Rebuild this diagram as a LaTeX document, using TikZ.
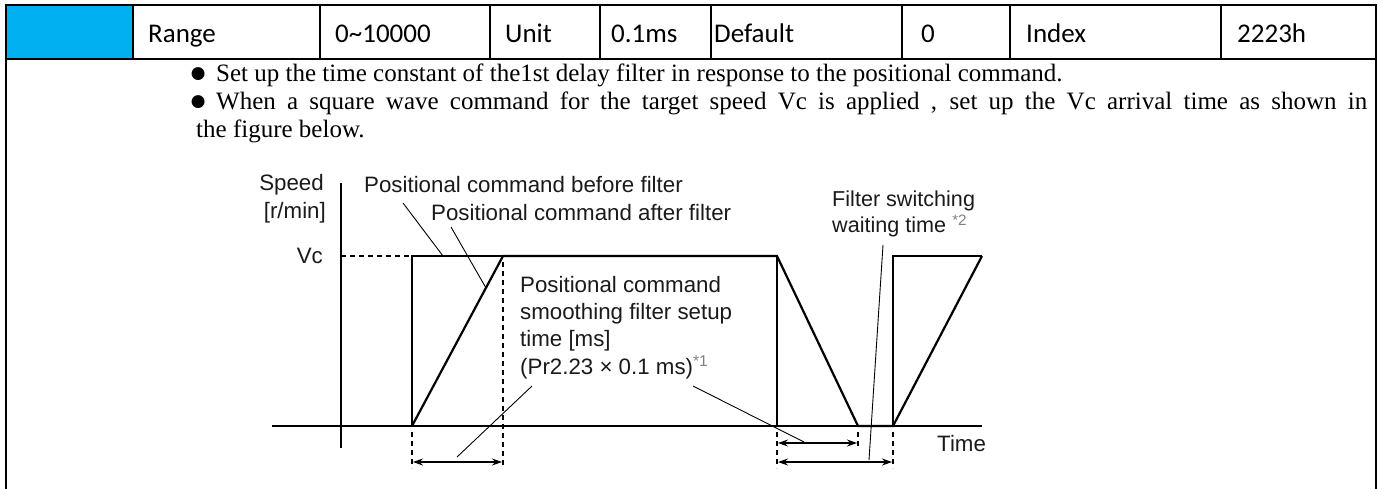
\documentclass[tikz,border=0pt]{standalone}
\usepackage{fontspec}
\setmainfont{Liberation Serif}
\newfontfamily\tabfont{Carlito}
\newfontfamily\figfont{Liberation Sans}
\usetikzlibrary{arrows.meta}
\definecolor{hdrblue}{HTML}{00B0F0}
\definecolor{figtext}{HTML}{1A1A1A}
\begin{document}
\begin{tikzpicture}[x=1pt,y=-1pt,
  tabtxt/.style={anchor=base west,inner sep=0pt,font=\tabfont\fontsize{27}{32}\selectfont},
  bodytxt/.style={anchor=base west,inner sep=0pt,font=\fontsize{25}{29}\selectfont},
  bullettxt/.style={anchor=base west,inner sep=0pt,font=\fontsize{30}{30}\selectfont},
  figtxt/.style={inner sep=0pt,text=figtext,font=\figfont\fontsize{22.3}{27}\selectfont},
  border/.style={line width=2pt,line cap=rect},
  thinl/.style={line width=1.1pt},
  thickl/.style={line width=2.2pt,line join=miter},
  dashl/.style={line width=1.1pt,dash pattern=on 5pt off 4pt},
  leader/.style={line width=0.9pt},
  dim/.style={line width=1.1pt,{Stealth[length=10pt,width=7pt]}-{Stealth[length=10pt,width=7pt]}}
]
\useasboundingbox (0,0) rectangle (1383,488);
% ---------- table ----------
\fill[hdrblue] (6,5) rectangle (133,58.5);
\draw[border] (6,490) -- (6,5) -- (1376,5) -- (1376,490);
\draw[border] (6,58.5) -- (1376,58.5);
\foreach \cx in {133,320,490,600,711,902,1010,1221}
  \draw[border] (\cx,5) -- (\cx,58.5);
\node[tabtxt] (t1) at (148,42) {Range};
\node[tabtxt] (t2) at (335,42) {0\textasciitilde 10000};
\node[tabtxt] (t3) at (505,42) {Unit};
\node[tabtxt] (t4) at (611,42) {0.1ms};
\node[tabtxt] (t5) at (714,42) {Default};
\node[tabtxt] (t6) at (921,42) {0};
\node[tabtxt] (t7) at (1026,42) {Index};
\node[tabtxt] (t8) at (1237,42) {2223h};
% ---------- bullets ----------
\node[bullettxt] (b1) at (189,82) {●};
\node[bodytxt] (l1) at (216,81) {Set up the time constant of the1st delay filter in response to the positional command.};
\node[bullettxt] (b2) at (189,110) {●};
\node[bodytxt] (l2) at (216,109) {\makebox[1151pt][s]{When a square wave command for the target speed Vc is applied , set up the Vc arrival time as shown in}};
\node[bodytxt] (l3) at (196,137) {the figure below.};
% ---------- figure ----------
\draw[thinl] (341,183) -- (341,448);
\draw[thinl] (272,426) -- (982,426);
\draw[dashl] (341,256) -- (412,256);
% command before filter
\draw[thinl] (412,426) -- (412,256) -- (777,256) -- (777,426);
\draw[thinl] (893,426) -- (893,256) -- (982,256);
% command after filter
\draw[thickl] (412,426) -- (503,256) -- (777,256) -- (858,426) -- (893,426) -- (982,256);
% dashed guides
\draw[dashl] (503,262) -- (503,468);
\draw[dashl] (412,432) -- (412,468);
\draw[dashl] (777,432) -- (777,468);
\draw[dashl] (858,432) -- (858,449);
\draw[dashl] (893,432) -- (893,468);
% dimension arrows
\draw[dim] (413,462) -- (502,462);
\draw[dim] (778,443) -- (857,443);
\draw[dim] (778,462) -- (892,462);
% labels
\node[figtxt,anchor=east] (spd) at (324,185) {Speed};
\node[figtxt,anchor=east] (unit) at (326,213) {[r/min]};
\node[figtxt,anchor=east] (vc) at (323,256) {Vc};
\node[figtxt,anchor=west] (before) at (364,185) {Positional command before filter};
\node[figtxt,anchor=west] (after) at (431,213) {Positional command after filter};
\node[figtxt,anchor=north west,align=left,font=\figfont\fontsize{22.3}{27.3}\selectfont] (smooth) at (520,276) {Positional command\\smoothing filter setup\\time [ms]\\(Pr2.23 × 0.1 ms)\textsuperscript{\color{gray}*1}};
\node[figtxt,anchor=north west,align=left,font=\figfont\fontsize{21.6}{26}\selectfont] (fsw) at (832,191) {Filter switching\\waiting time \textsuperscript{\color{gray}*2}};
\node[figtxt,anchor=west] (time) at (937,444) {Time};
% leaders
\draw[leader] (403,203) -- (443,256);
\draw[leader] (451,227) -- (486,288);
\draw[leader] (532,386) -- (457,457);
\draw[leader] (693,386) -- (804,442);
\draw[leader] (883,245) -- (869,460);
\end{tikzpicture}
\end{document}
